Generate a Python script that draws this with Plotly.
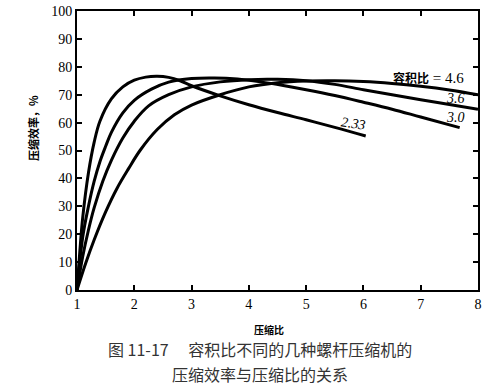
import plotly.graph_objects as go

# Compression ratio (x) and compression efficiency % (y) for each volume ratio
x_233 = [1.0, 1.05, 1.1, 1.2, 1.3, 1.4, 1.6, 1.8, 2.0, 2.2, 2.4, 2.6, 2.8, 3.0, 3.5, 4.0, 4.5, 5.0, 5.5, 6.04]
y_233 = [0.0, 14.0, 26.0, 42.0, 53.0, 60.5, 68.5, 72.8, 75.2, 76.3, 76.6, 76.2, 75.0, 73.2, 69.6, 66.4, 63.6, 61.0, 58.3, 55.2]

x_30 = [1.0, 1.1, 1.2, 1.3, 1.4, 1.5, 1.6, 1.8, 2.0, 2.3, 2.6, 3.0, 3.4, 3.8, 4.2, 4.6, 5.0, 5.5, 6.0, 6.5, 7.0, 7.68]
y_30 = [0.0, 19.0, 30.0, 39.0, 46.0, 51.5, 56.5, 63.5, 68.0, 72.0, 74.5, 75.8, 76.0, 75.6, 74.6, 73.3, 71.8, 69.7, 67.3, 64.8, 62.0, 58.2]

x_36 = [1.0, 1.1, 1.2, 1.3, 1.45, 1.6, 1.8, 2.0, 2.25, 2.6, 3.0, 3.5, 4.0, 4.5, 5.0, 5.5, 6.0, 6.5, 7.0, 7.5, 8.0]
y_36 = [0.0, 12.0, 21.5, 29.5, 39.0, 46.5, 54.5, 60.5, 66.0, 70.0, 72.8, 74.6, 75.4, 75.5, 75.0, 73.7, 71.8, 70.0, 68.2, 66.5, 64.8]

x_46 = [1.0, 1.15, 1.3, 1.5, 1.7, 1.9, 2.1, 2.4, 2.7, 3.0, 3.5, 4.0, 4.5, 5.0, 5.5, 6.0, 6.5, 7.0, 7.5, 8.0]
y_46 = [0.0, 9.5, 18.0, 28.0, 36.5, 43.5, 50.0, 57.5, 62.8, 66.3, 70.0, 72.8, 74.3, 74.9, 75.0, 74.7, 74.0, 73.0, 71.7, 70.0]

x_ticks = [1, 2, 3, 4, 5, 6, 7, 8]
y_ticks = [0, 10, 20, 30, 40, 50, 60, 70, 80, 90, 100]

series = [(x_233, y_233), (x_30, y_30), (x_36, y_36), (x_46, y_46)]

fig = go.Figure()
for xs, ys in series:
    fig.add_trace(go.Scatter(x=xs, y=ys, mode="lines",
                             line=dict(color="black", width=3, shape="spline", smoothing=1.0),
                             showlegend=False, hoverinfo="skip", cliponaxis=False))

serif = "Liberation Serif"
cjk = "Noto Sans CJK SC"

axis_common = dict(showline=True, linecolor="black", linewidth=2, mirror="ticks",
                   ticks="inside", ticklen=5, tickwidth=1.5, tickcolor="black",
                   showgrid=False, zeroline=False, automargin=False,
                   ticklabeloverflow="allow",
                   tickfont=dict(family=serif, size=14, color="black"))

fig.update_xaxes(range=[1, 8], tickvals=x_ticks, ticktext=[str(v) for v in x_ticks], **axis_common)
fig.update_yaxes(range=[0, 100], tickvals=y_ticks, ticktext=[str(v) for v in y_ticks], **axis_common)

anns = [
    dict(x=7.14, y=76.0, xref="x", yref="y",
         text="<b><span style='font-family:Noto Sans CJK SC;font-size:12px'>容积比</span></b> = 4.6",
         font=dict(family=serif, size=15, color="black")),
    dict(x=7.61, y=68.7, xref="x", yref="y", text="<i>3.6</i>",
         font=dict(family=serif, size=14, color="black")),
    dict(x=7.61, y=61.9, xref="x", yref="y", text="<i>3.0</i>",
         font=dict(family=serif, size=14, color="black")),
    dict(x=5.82, y=59.6, xref="x", yref="y", text="<i>2.33</i>", textangle=8,
         font=dict(family=serif, size=14, color="black")),
    dict(x=-0.11, y=0.58, xref="paper", yref="paper", text="<b>压缩效率，%</b>", textangle=-90,
         font=dict(family=cjk, size=11, color="black")),
    dict(x=4.35, y=-0.143, xref="x", yref="paper", text="<b>压缩比</b>",
         font=dict(family=cjk, size=10, color="black")),
    dict(x=0.457, y=-0.211, xref="paper", yref="paper",
         text="图 11-17　 容积比不同的几种螺杆压缩机的",
         font=dict(family=cjk, size=16, color="#333333")),
    dict(x=0.457, y=-0.301, xref="paper", yref="paper",
         text="压缩效率与压缩比的关系",
         font=dict(family=cjk, size=16, color="#333333")),
]
for a in anns:
    a.update(showarrow=False, xanchor="center", yanchor="middle")
    fig.add_annotation(**a)

fig.update_layout(width=499, height=387, margin=dict(l=77, r=21, t=11, b=97),
                  paper_bgcolor="white", plot_bgcolor="white")

# remove the page's default 8px body margin so the figure fills the window exactly
fig.write_html("out.html", config={"displayModeBar": False},
               post_script="document.body.style.margin='0';")
